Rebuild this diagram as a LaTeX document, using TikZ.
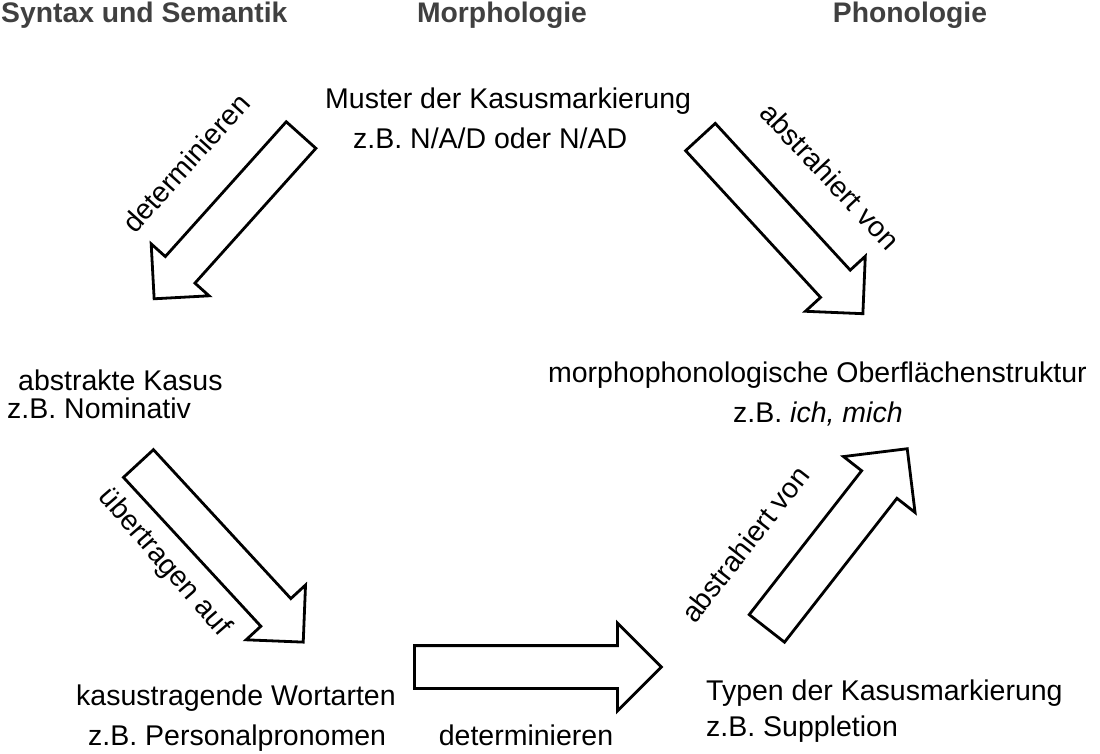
\documentclass[tikz,border=0pt]{standalone}
\usepackage{fontspec}
\setmainfont{Liberation Sans}
\usetikzlibrary{shapes.arrows,positioning}
\definecolor{headgray}{HTML}{404040}

\begin{document}
\begin{tikzpicture}[x=1pt, y=-1pt,
  head/.style={font=\fontsize{28.3}{34}\selectfont\bfseries, text=headgray, inner sep=0pt, anchor=base},
  txt/.style={font=\fontsize{28.5}{34}\selectfont, inner sep=0pt, anchor=base west},
  lbl/.style={font=\fontsize{28.5}{34}\selectfont, inner sep=0pt},
  blockarrow/.style={draw, line width=2.8pt, single arrow, single arrow tip angle=90,
    single arrow head indent=0pt, inner xsep=0pt, anchor=tail, minimum height=#1}
]
\useasboundingbox (0,0) rectangle (1100,753);
% Kopfzeile
\node[head, anchor=base west] (hSyn) at (1,22) {Syntax und Semantik};
\node[head] (hMorph) at (502,22) {Morphologie};
\node[head] (hPhon) at (910,22) {Phonologie};

% Texte
\node[txt] (muster) at (325,108) {Muster der Kasusmarkierung};
\node[txt] (musterEx) at (353,148) {z.B. N/A/D oder N/AD};
\node[txt] (kasus) at (18,390) {abstrakte Kasus};
\node[txt] (kasusEx) at (7,418) {z.B. Nominativ};
\node[txt, anchor=base east] (oberfl) at (1087,382) {morphophonologische Oberflächenstruktur};
\node[txt] (oberflEx) at (733,422) {z.B. \textit{ich, mich}};
\node[txt] (wortart) at (76,705) {kasustragende Wortarten};
\node[txt] (wortartEx) at (88,745) {z.B. Personalpronomen};
\node[txt] (typen) at (706,700) {Typen der Kasusmarkierung};
\node[txt] (typenEx) at (706,736) {z.B. Suppletion};

% Blockpfeile
\node[blockarrow=220, inner ysep=18.5pt, single arrow head extend=19pt, rotate=228.1] (aDetTop) at (302,134) {};
\node[blockarrow=240, inner ysep=18.75pt, single arrow head extend=20.5pt, rotate=-47.4] (aAbsTop) at (699.5,136) {};
\node[blockarrow=243, inner ysep=19pt, single arrow head extend=20pt, rotate=-47.3] (aUebertr) at (137.5,462.5) {};
\node[blockarrow=247, inner ysep=20pt, single arrow head extend=22.5pt] (aDetBot) at (413,667) {};
\node[blockarrow=228, inner ysep=21pt, single arrow head extend=23pt, rotate=52] (aAbsBot) at (766,629.5) {};

% Pfeilbeschriftungen
\node[lbl, rotate=48] (lDetTop) at (186,163) {determinieren};
\node[lbl, rotate=-47] (lAbsTop) at (830,176) {abstrahiert von};
\node[lbl, rotate=-49] (lUebertr) at (164,563) {übertragen auf};
\node[lbl, anchor=base] (lDetBot) at (526,745) {determinieren};
\node[lbl, rotate=52] (lAbsBot) at (745,544) {abstrahiert von};
\end{tikzpicture}
\end{document}
